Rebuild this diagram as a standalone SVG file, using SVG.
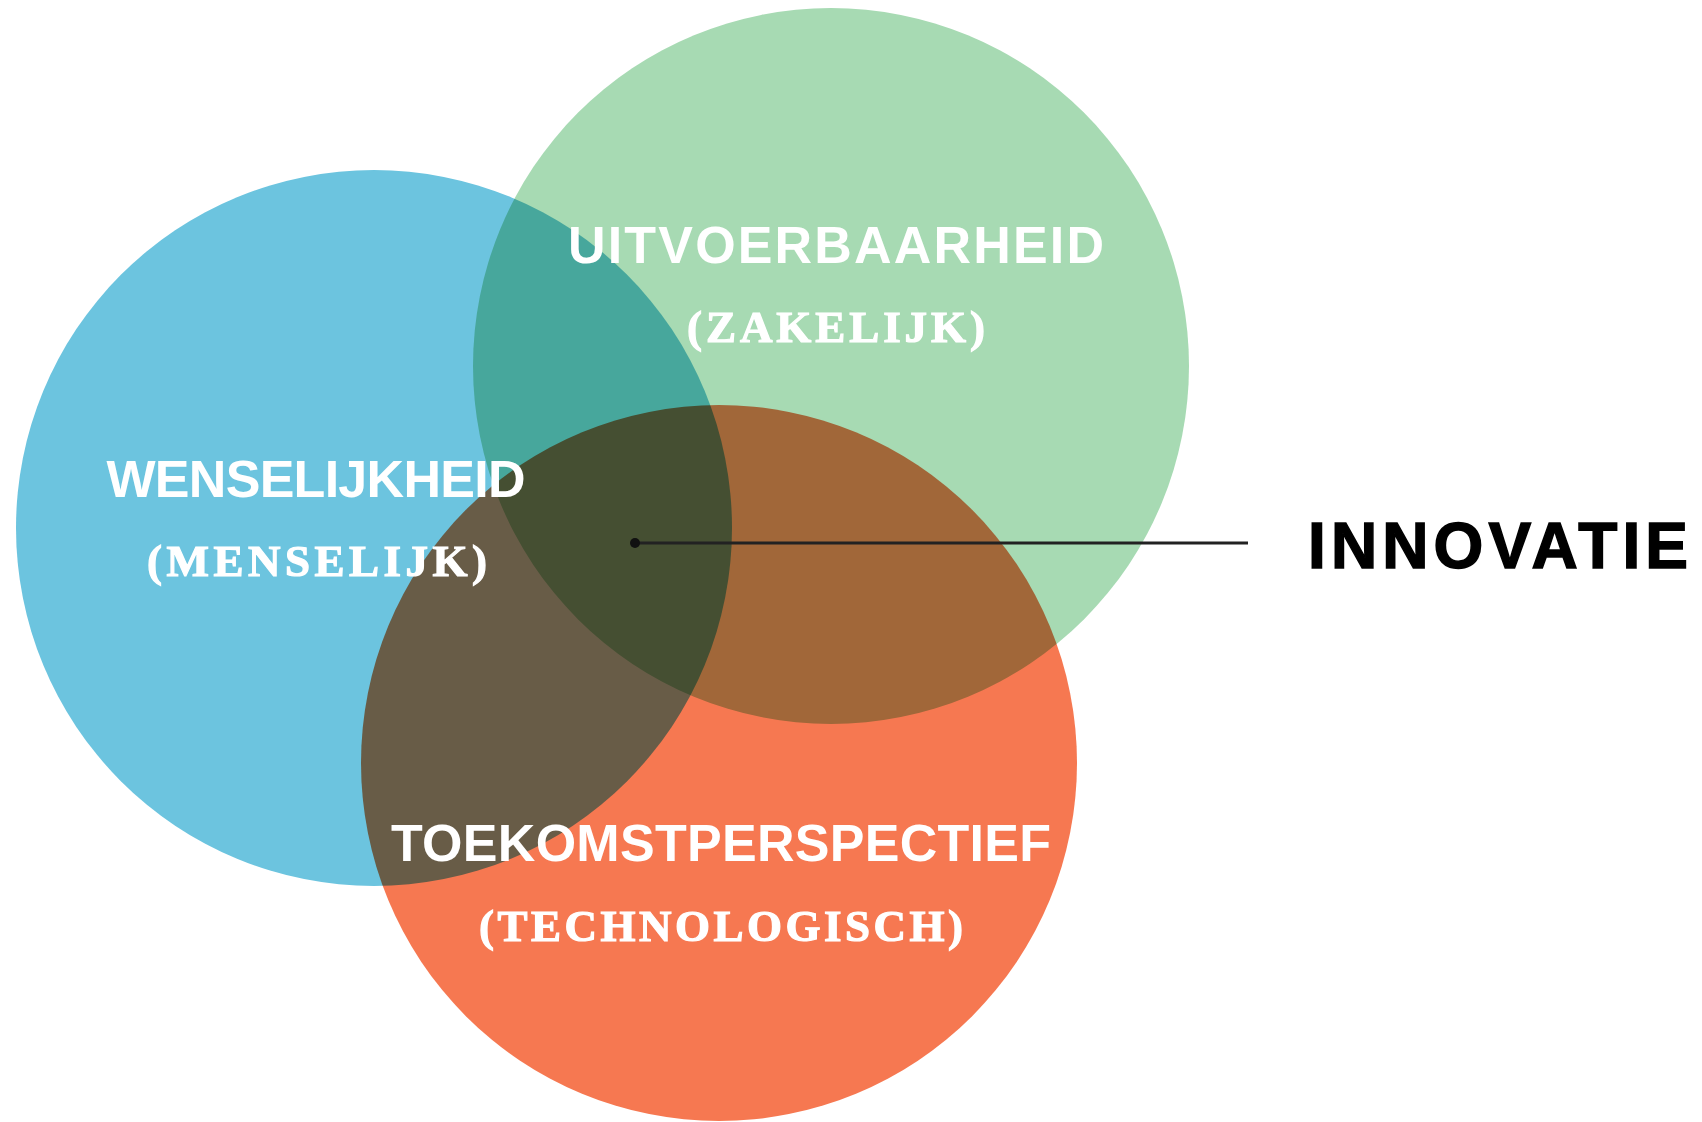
<svg xmlns="http://www.w3.org/2000/svg" width="1702" height="1122" viewBox="0 0 1702 1122">
  <style>
    .circle { mix-blend-mode: multiply; }
    .title { font-family: "Liberation Sans", Arial, sans-serif; font-weight: 700; font-size: 52px; fill: #ffffff; text-anchor: middle; }
    .sub { font-family: "Liberation Serif", "Times New Roman", serif; font-weight: 700; font-size: 45px; fill: #ffffff; stroke: #ffffff; stroke-width: 1.2; text-anchor: middle; }
    .main { font-family: "Liberation Sans", Arial, sans-serif; font-weight: 700; font-size: 64px; fill: #000000; stroke: #000000; stroke-width: 1.5; text-anchor: middle; }
    .link { stroke: #222222; stroke-width: 3; fill: none; }
  </style>
  <rect x="0" y="0" width="1702" height="1122" fill="#ffffff"/>
  <g id="circles">
    <g id="node-wenselijkheid-shape">
      <circle class="circle" cx="374" cy="528" r="358" fill="#6CC4DF"/>
    </g>
    <g id="node-uitvoerbaarheid-shape">
      <circle class="circle" cx="831" cy="366" r="358" fill="#A7DAB3"/>
    </g>
    <g id="node-toekomstperspectief-shape">
      <circle class="circle" cx="719" cy="763" r="358" fill="#F67851"/>
    </g>
  </g>
  <g id="connectors">
    <line class="link" x1="635" y1="543" x2="1248" y2="543"/>
    <circle cx="635" cy="543" r="5" fill="#111111"/>
  </g>
  <g id="node-wenselijkheid">
    <text class="title" x="316" y="497" textLength="419" lengthAdjust="spacing">WENSELIJKHEID</text>
    <text class="sub" x="317" y="576" textLength="340" lengthAdjust="spacing">(MENSELIJK)</text>
  </g>
  <g id="node-uitvoerbaarheid">
    <text class="title" x="836" y="263" textLength="536" lengthAdjust="spacing">UITVOERBAARHEID</text>
    <text class="sub" x="836" y="342" textLength="298" lengthAdjust="spacing">(ZAKELIJK)</text>
  </g>
  <g id="node-toekomstperspectief">
    <text class="title" x="721" y="861" textLength="660" lengthAdjust="spacing">TOEKOMSTPERSPECTIEF</text>
    <text class="sub" x="721" y="941" textLength="484" lengthAdjust="spacing">(TECHNOLOGISCH)</text>
  </g>
  <g id="node-innovatie">
    <text class="main" x="1498" y="568" textLength="380" lengthAdjust="spacing">INNOVATIE</text>
  </g>
</svg>
